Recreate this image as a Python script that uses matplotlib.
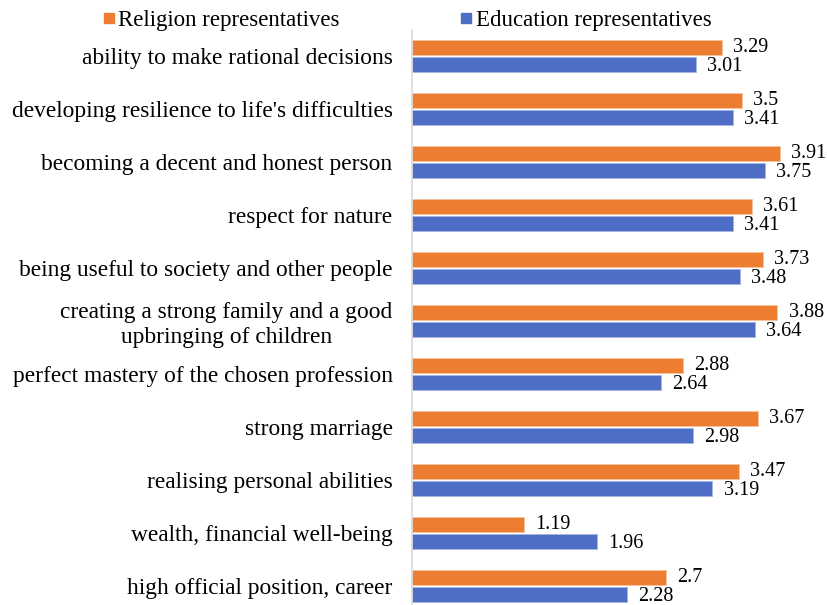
import numpy as np
import matplotlib
matplotlib.use("Agg")
import matplotlib.pyplot as plt
from matplotlib.lines import Line2D

plt.rcParams['font.family'] = ['Liberation Serif', 'DejaVu Serif']

categories = [
    "ability to make rational decisions",
    "developing resilience to life's difficulties",
    "becoming a decent and honest person",
    "respect for nature",
    "being useful to society and other people",
    "creating a strong family and a good\nupbringing of children",
    "perfect mastery of the chosen profession",
    "strong marriage",
    "realising personal abilities",
    "wealth, financial well-being",
    "high official position, career",
]
religion = [3.29, 3.5, 3.91, 3.61, 3.73, 3.88, 2.88, 3.67, 3.47, 1.19, 2.7]
education = [3.01, 3.41, 3.75, 3.41, 3.48, 3.64, 2.64, 2.98, 3.19, 1.96, 2.28]

ORANGE = '#ED7D31'
BLUE = '#4E6EC6'

fig = plt.figure(figsize=(8.28, 6.05), dpi=100)
ax = fig.add_axes([412 / 828, 0.0, 1 - 412 / 828, 1 - 30 / 605])

y = np.arange(len(categories))[::-1]
h = 0.28
off = 0.155
ax.barh(y + off, religion, height=h, color=ORANGE, edgecolor='#F6C4A2', linewidth=0.6)
ax.barh(y - off, education, height=h, color=BLUE, edgecolor='#A5B5E0', linewidth=0.6)

for yi, r, e in zip(y, religion, education):
    ax.annotate(f"{r:g}", (r, yi + off), xytext=(8, 0), textcoords='offset points',
                va='center', ha='left', fontsize=14.5)
    ax.annotate(f"{e:g}", (e, yi - off), xytext=(8, -1.5), textcoords='offset points',
                va='center', ha='left', fontsize=14.5)

ax.set_xlim(0, (828 - 412) / 94.2)
ax.set_ylim(-0.36, 10.49)
ax.set_yticks(y)
ax.set_yticklabels(categories, fontsize=16.8, multialignment='center')
ax.tick_params(axis='y', length=0, pad=14)
ax.set_xticks([])
for s in ['top', 'right', 'bottom']:
    ax.spines[s].set_visible(False)
ax.spines['left'].set_color('#D9D9D9')
ax.spines['left'].set_linewidth(1.2)

handles = [
    Line2D([], [], marker='s', color=ORANGE, linestyle='none', markersize=7.5),
    Line2D([], [], marker='s', color=BLUE, linestyle='none', markersize=7.5),
]
fig.legend(handles, ["Religion representatives", "Education representatives"],
           loc='center', bbox_to_anchor=(0.491, 0.966), ncol=2, frameon=False,
           fontsize=16.5, handlelength=0.6, handletextpad=0.12, columnspacing=5.2)

fig.savefig("out.png", dpi=100)
